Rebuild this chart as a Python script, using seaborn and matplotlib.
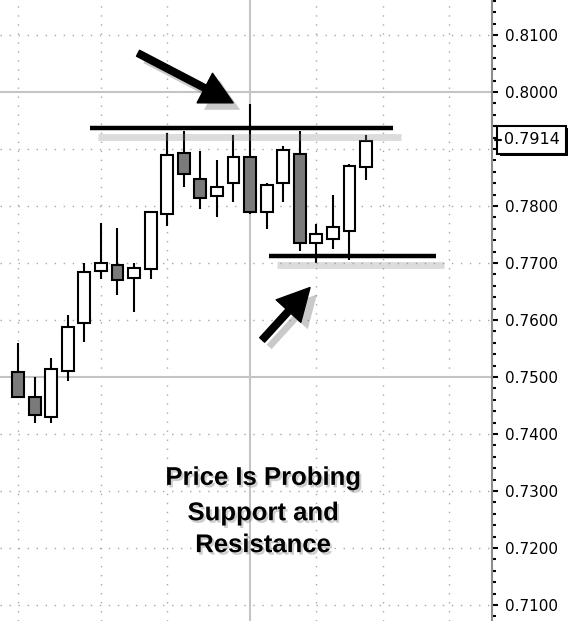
import matplotlib
matplotlib.use('Agg')
import matplotlib.pyplot as plt
import matplotlib.patheffects as pe
import matplotlib.transforms as mtransforms
from matplotlib.ticker import MultipleLocator
import numpy as np
import pandas as pd
import seaborn as sns

# daily candles
opens = [0.7509, 0.7465, 0.7430, 0.7511, 0.7595, 0.7686, 0.7696, 0.7674, 0.7689, 0.7786, 0.7893,
         0.7847, 0.7818, 0.7840, 0.7886, 0.7789, 0.7840, 0.7891, 0.7735, 0.7742, 0.7756, 0.7868]
highs = [0.7560, 0.7500, 0.7533, 0.7609, 0.7700, 0.7770, 0.7761, 0.7700, 0.7790, 0.7928, 0.7932,
         0.7896, 0.7881, 0.7925, 0.7979, 0.7840, 0.7905, 0.7932, 0.7768, 0.7819, 0.7874, 0.7925]
lows = [0.7463, 0.7419, 0.7419, 0.7493, 0.7561, 0.7672, 0.7644, 0.7614, 0.7672, 0.7765, 0.7833,
        0.7795, 0.7781, 0.7807, 0.7786, 0.7760, 0.7807, 0.7721, 0.7700, 0.7725, 0.7705, 0.7846]
closes = [0.7465, 0.7433, 0.7514, 0.7588, 0.7684, 0.7700, 0.7670, 0.7691, 0.7789, 0.7889, 0.7856,
          0.7814, 0.7833, 0.7886, 0.7789, 0.7837, 0.7898, 0.7735, 0.7751, 0.7763, 0.7870, 0.7914]

last_price = 0.7914
resistance = 0.7937
resistance_span = [4.35, 22.6]
support = 0.7712
support_span = [15.15, 25.2]

grid_days = [0, 5, 9, 18, 22, 26]
marker_day = 14
grid_prices = [0.71, 0.72, 0.73, 0.74, 0.76, 0.77, 0.78, 0.79, 0.81]
solid_prices = [0.75, 0.80]

note_lines = ['Price Is Probing', 'Support and', 'Resistance']
note_y = [0.7323, 0.7261, 0.7205]

df = pd.DataFrame({'open': opens, 'high': highs, 'low': lows, 'close': closes})
df['day'] = np.arange(len(df))
df['up'] = df['close'] >= df['open']

sns.set_theme(style='white')
plt.rcParams['font.family'] = ['DejaVu Sans']
plt.rcParams['lines.scale_dashes'] = False

fig = plt.figure(figsize=(5.77, 6.21), dpi=100)
ax = fig.add_axes([0, 0, 492 / 577, 1])
ax.set_xlim(-1.09, 28.6)
ax.set_ylim(0.70719, 0.81614)

# background grid
dots = (0, (1, 5.5))
for p in grid_prices:
    ax.axhline(p, color='#a8a8a8', lw=1.0, ls=dots, zorder=0)
for d in grid_days:
    ax.axvline(d, color='#a8a8a8', lw=1.0, ls=dots, zorder=0)
for p in solid_prices:
    ax.axhline(p, color='#c4c4c4', lw=1.5, zorder=0)
ax.axvline(marker_day, color='#c4c4c4', lw=1.5, zorder=0)

# candles
ax.vlines(df['day'], df['low'], df['high'], color='black', lw=1.5, zorder=3)
ax.bar(df['day'], (df['close'] - df['open']).abs(), bottom=df[['open', 'close']].min(axis=1),
       width=0.72, color=np.where(df['up'], 'white', '#7a7a7a'), edgecolor='black',
       linewidth=1.5, zorder=4)

# support / resistance
line_fx = [pe.SimpleLineShadow(offset=(6, -6.5), shadow_color='0.55', alpha=0.3, linewidth=5),
           pe.Normal()]
ax.plot(resistance_span, [resistance] * 2, color='black', lw=3.2, solid_capstyle='butt',
        path_effects=line_fx, zorder=5)
ax.plot(support_span, [support] * 2, color='black', lw=3.2, solid_capstyle='butt',
        path_effects=line_fx, zorder=5)

# arrows
arrow_fx = [pe.SimplePatchShadow(offset=(5, -5), shadow_rgbFace='0.4', alpha=0.35), pe.Normal()]
for tip, tail in [((12.98, 0.7981), (7.24, 0.8068)), ((17.62, 0.7657), (14.73, 0.7565))]:
    ann = ax.annotate('', xy=tip, xytext=tail,
                      arrowprops=dict(arrowstyle='simple,head_length=1.15,head_width=1.2,tail_width=0.24',
                                      mutation_scale=20, color='black', shrinkA=0, shrinkB=0))
    ann.arrow_patch.set_path_effects(arrow_fx)

for line, y in zip(note_lines, note_y):
    ax.text(14.8, y, line, ha='center', va='center', fontsize=18.5, fontweight='bold',
            family='Liberation Sans', color='black', zorder=6,
            path_effects=[pe.withSimplePatchShadow(offset=(1.5, -1.8), shadow_rgbFace='0.45', alpha=0.35)])

# right price axis
sns.despine(ax=ax, left=True, bottom=True, top=True, right=False)
ax.spines['right'].set_color('#8c8c8c')
ax.spines['right'].set_linewidth(1.5)
ax.set_xticks([])
ax.yaxis.tick_right()
ax.yaxis.set_major_locator(MultipleLocator(0.01))
ax.yaxis.set_minor_locator(MultipleLocator(0.002))
ax.yaxis.set_major_formatter(lambda v, pos: f'{v:.4f}')
ax.tick_params(axis='y', which='major', right=True, length=4.5, width=1.5, color='black',
               pad=5, labelsize=11, labelcolor='black')
ax.tick_params(axis='y', which='minor', right=True, length=3, width=1.5, color='black')

trans = mtransforms.blended_transform_factory(ax.transAxes, ax.transData)
lbl = ax.text(1.024, last_price + 0.0002, f'{last_price:.4f}', transform=trans, ha='left',
              va='center', fontsize=11.5, color='black', clip_on=False, zorder=7,
              bbox=dict(boxstyle='square,pad=0.4', fc='white', ec='black', lw=1.5))
lbl.get_bbox_patch().set_path_effects(
    [pe.SimplePatchShadow(offset=(1.5, -1.5), shadow_rgbFace='black', alpha=1), pe.Normal()])
ax.plot([1.006, 1.018], [last_price + 0.0002] * 2, transform=trans, color='black', lw=1.5,
        clip_on=False, zorder=8)

fig.savefig('out.png', dpi=100)
